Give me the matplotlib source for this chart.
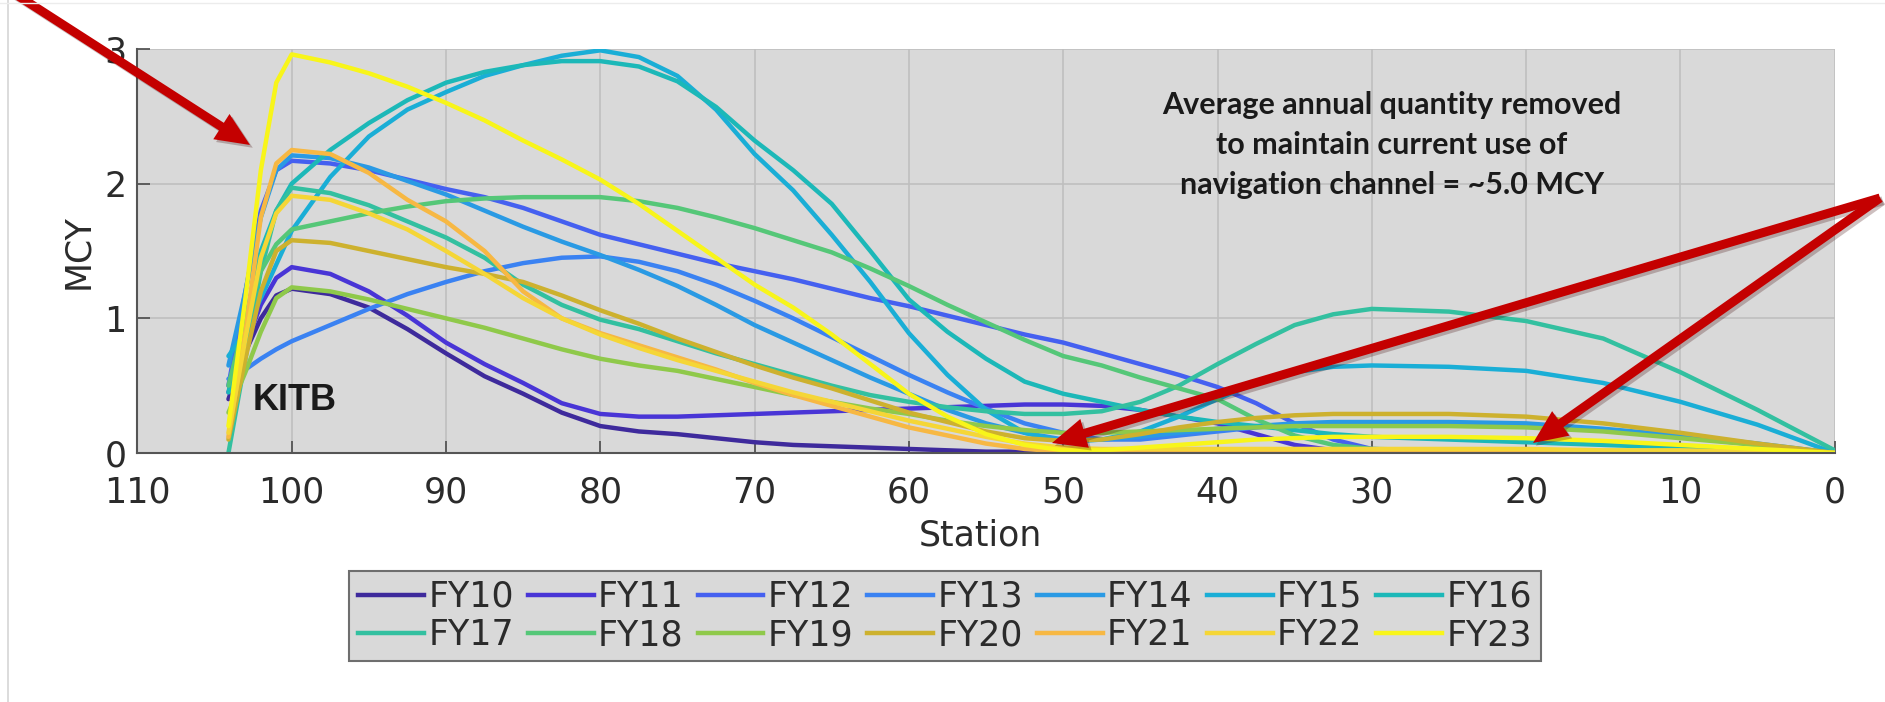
import matplotlib
matplotlib.use("Agg")
import matplotlib.pyplot as plt
from matplotlib.lines import Line2D
from matplotlib.patches import FancyArrow
from matplotlib.transforms import IdentityTransform
import matplotlib.patheffects as pe

# Station (river mile) positions shared by every fiscal-year profile
stations = [104.1, 103, 102, 101, 100, 97.5, 95, 92.5, 90, 87.5, 85, 82.5, 80,
            77.5, 75, 72.5, 70, 67.5, 65, 62.5, 60, 57.5, 55, 52.5, 50,
            47.5, 45, 42.5, 40, 37.5, 35, 32.5, 30, 25, 20, 15, 10, 5, 0]

labels = ["FY10", "FY11", "FY12", "FY13", "FY14", "FY15", "FY16",
          "FY17", "FY18", "FY19", "FY20", "FY21", "FY22", "FY23"]

colors = ["#3e2a9c", "#4935d6", "#4560f0", "#3a82f2", "#2a9ae4", "#1aaed6", "#1cb8b8",
          "#33c0a0", "#55c778", "#8fc94a", "#cdb12e", "#f7b843", "#f5d636", "#f8f51a"]

# Dredged quantity (MCY) along the channel for each fiscal year
fy10 = [0.40, 0.75, 1.00, 1.17, 1.22, 1.18, 1.08, 0.92, 0.74, 0.57, 0.44, 0.30, 0.20,
        0.16, 0.14, 0.11, 0.08, 0.06, 0.05, 0.04, 0.03, 0.02, 0.01, 0.01, 0.00,
        0, 0, 0, 0, 0, 0, 0, 0, 0, 0, 0, 0, 0, 0]
fy11 = [0.45, 0.80, 1.10, 1.30, 1.38, 1.33, 1.20, 1.02, 0.82, 0.66, 0.52, 0.37, 0.29,
        0.27, 0.27, 0.28, 0.29, 0.30, 0.31, 0.32, 0.33, 0.34, 0.35, 0.36, 0.36,
        0.35, 0.32, 0.27, 0.22, 0.14, 0.06, 0.02, 0.00, 0, 0, 0, 0, 0, 0]
fy12 = [0.50, 1.20, 1.80, 2.10, 2.17, 2.15, 2.10, 2.03, 1.96, 1.90, 1.82, 1.72, 1.62,
        1.55, 1.48, 1.41, 1.35, 1.29, 1.22, 1.15, 1.09, 1.02, 0.95, 0.88, 0.82,
        0.74, 0.66, 0.58, 0.49, 0.37, 0.22, 0.10, 0.03, 0.01, 0, 0, 0, 0, 0]
fy13 = [0.55, 0.62, 0.70, 0.77, 0.83, 0.95, 1.07, 1.18, 1.27, 1.35, 1.41, 1.45, 1.46,
        1.42, 1.35, 1.25, 1.13, 1.00, 0.86, 0.72, 0.58, 0.45, 0.33, 0.22, 0.15,
        0.10, 0.10, 0.13, 0.16, 0.19, 0.21, 0.22, 0.22, 0.22, 0.21, 0.17, 0.12, 0.06, 0.0]
fy14 = [0.65, 1.20, 1.75, 2.10, 2.21, 2.19, 2.12, 2.02, 1.92, 1.80, 1.68, 1.57, 1.47,
        1.36, 1.24, 1.10, 0.95, 0.82, 0.69, 0.56, 0.44, 0.32, 0.22, 0.15, 0.10,
        0.10, 0.12, 0.15, 0.18, 0.20, 0.22, 0.23, 0.23, 0.23, 0.22, 0.18, 0.13, 0.07, 0.0]
fy15 = [0.72, 0.90, 1.15, 1.40, 1.65, 2.05, 2.35, 2.55, 2.68, 2.80, 2.88, 2.95, 2.99,
        2.94, 2.80, 2.55, 2.22, 1.95, 1.62, 1.27, 0.89, 0.58, 0.32, 0.15, 0.08,
        0.10, 0.16, 0.27, 0.40, 0.52, 0.60, 0.64, 0.65, 0.64, 0.61, 0.52, 0.38, 0.21, 0.0]
fy16 = [0.45, 1.00, 1.50, 1.80, 2.00, 2.25, 2.45, 2.62, 2.75, 2.83, 2.88, 2.91, 2.91,
        2.87, 2.76, 2.57, 2.32, 2.10, 1.85, 1.50, 1.14, 0.90, 0.70, 0.53, 0.44,
        0.38, 0.32, 0.27, 0.23, 0.20, 0.17, 0.14, 0.12, 0.10, 0.08, 0.06, 0.04, 0.02, 0.0]
fy17 = [0.00, 0.70, 1.35, 1.80, 1.97, 1.93, 1.84, 1.72, 1.60, 1.45, 1.25, 1.10, 0.99,
        0.92, 0.83, 0.74, 0.66, 0.58, 0.50, 0.43, 0.38, 0.34, 0.31, 0.29, 0.29,
        0.31, 0.38, 0.50, 0.66, 0.81, 0.95, 1.03, 1.07, 1.05, 0.98, 0.85, 0.60, 0.32, 0.02]
fy18 = [0.50, 1.00, 1.35, 1.55, 1.66, 1.72, 1.78, 1.83, 1.87, 1.89, 1.90, 1.90, 1.90,
        1.87, 1.82, 1.75, 1.67, 1.58, 1.49, 1.37, 1.24, 1.10, 0.97, 0.84, 0.72,
        0.65, 0.56, 0.48, 0.40, 0.25, 0.13, 0.06, 0.03, 0.02, 0.01, 0.0, 0.0, 0.0, 0.0]
fy19 = [0.30, 0.60, 0.90, 1.15, 1.23, 1.20, 1.14, 1.07, 1.00, 0.93, 0.85, 0.77, 0.70,
        0.65, 0.61, 0.55, 0.49, 0.43, 0.38, 0.33, 0.29, 0.24, 0.20, 0.17, 0.15,
        0.15, 0.16, 0.17, 0.18, 0.19, 0.20, 0.20, 0.20, 0.20, 0.19, 0.16, 0.11, 0.06, 0.0]
fy20 = [0.10, 0.70, 1.20, 1.50, 1.58, 1.56, 1.50, 1.44, 1.38, 1.33, 1.27, 1.17, 1.06,
        0.96, 0.85, 0.75, 0.65, 0.56, 0.48, 0.39, 0.30, 0.23, 0.16, 0.11, 0.09,
        0.10, 0.14, 0.19, 0.23, 0.26, 0.28, 0.29, 0.29, 0.29, 0.27, 0.22, 0.15, 0.07, 0.0]
fy21 = [0.12, 0.90, 1.75, 2.15, 2.25, 2.22, 2.08, 1.88, 1.72, 1.50, 1.20, 1.00, 0.89,
        0.80, 0.71, 0.62, 0.52, 0.43, 0.35, 0.27, 0.19, 0.13, 0.07, 0.03, 0.01,
        0, 0, 0, 0, 0, 0, 0, 0, 0, 0, 0, 0, 0, 0]
fy22 = [0.15, 0.85, 1.45, 1.78, 1.91, 1.88, 1.78, 1.66, 1.50, 1.33, 1.15, 1.00, 0.88,
        0.78, 0.69, 0.61, 0.53, 0.45, 0.38, 0.31, 0.24, 0.18, 0.12, 0.07, 0.04,
        0.03, 0.03, 0.03, 0.03, 0.03, 0.03, 0.03, 0.03, 0.03, 0.03, 0.02, 0.02, 0.01, 0.0]
fy23 = [0.20, 1.15, 2.10, 2.75, 2.96, 2.90, 2.82, 2.72, 2.60, 2.47, 2.32, 2.18, 2.03,
        1.85, 1.65, 1.45, 1.25, 1.08, 0.88, 0.66, 0.44, 0.27, 0.14, 0.06, 0.02,
        0.02, 0.04, 0.06, 0.08, 0.10, 0.11, 0.12, 0.12, 0.12, 0.11, 0.09, 0.06, 0.03, 0.0]

series = [fy10, fy11, fy12, fy13, fy14, fy15, fy16,
          fy17, fy18, fy19, fy20, fy21, fy22, fy23]

x_ticks = [110, 100, 90, 80, 70, 60, 50, 40, 30, 20, 10, 0]
y_ticks = [0, 1, 2, 3]

note_lines = ["Average annual quantity removed",
              "to maintain current use of",
              "navigation channel = ~5.0 MCY"]

W, H = 1885, 702
plt.rcParams["font.family"] = ["DejaVu Sans"]

fig = plt.figure(figsize=(W / 100, H / 100), dpi=100)
fig.patch.set_facecolor("white")


def px(x, y):
    """Top-left pixel position -> figure fraction."""
    return x / W, (H - y) / H


ax_left, ax_right, ax_top, ax_bottom = 137.4, 1834.7, 49.0, 453.0
ax = fig.add_axes([ax_left / W, (H - ax_bottom) / H,
                   (ax_right - ax_left) / W, (ax_bottom - ax_top) / H])
ax.set_facecolor("#d9d9d9")

lines = []
for vals, col, lab in zip(series, colors, labels):
    ln, = ax.plot(stations, vals, color=col, lw=3.2, label=lab,
                  solid_capstyle="round", solid_joinstyle="round")
    lines.append(ln)

ax.set_xlim(110, 0)
ax.set_ylim(0, 3)
ax.set_xticks(x_ticks)
ax.set_yticks(y_ticks)
ax.grid(True, color="#bfbfbf", lw=1.2)
ax.set_axisbelow(True)
for side in ("top", "right"):
    ax.spines[side].set_visible(False)
for side in ("left", "bottom"):
    ax.spines[side].set_color("#555555")
    ax.spines[side].set_linewidth(1.5)
ax.tick_params(axis="both", direction="in", length=9, width=1.3, colors="#555555",
               labelcolor="#2b2b2b", labelsize=25)
ax.tick_params(axis="x", pad=16)
ax.tick_params(axis="y", pad=8)

# Axis titles
fig.text(*px(78, 252), "MCY", rotation=90, ha="center", va="center",
         fontsize=25, color="#2b2b2b")
fig.text(*px(980, 535), "Station", ha="center", va="center",
         fontsize=25, color="#2b2b2b")

# Station marker and note
fig.text(*px(253, 410), "KITB", ha="left", va="baseline", fontsize=26,
         fontweight="bold", family=["Liberation Sans", "DejaVu Sans"], color="#1a1a1a")
for i, line in enumerate(note_lines):
    fig.text(*px(1392, 105 + 40 * i), line, ha="center", va="center", fontsize=22,
             fontweight="bold", family=["Lato", "DejaVu Sans"], color="#1a1a1a")

# Legend below the axes, filled row by row (7 per row)
ncol, nrow = 7, 2
order = [r * ncol + c for c in range(ncol) for r in range(nrow)]
handles = [Line2D([], [], color=colors[i], lw=3.2) for i in order]
leg_labels = [labels[i] for i in order]
leg = fig.legend(handles, leg_labels, loc="center", bbox_to_anchor=px(945, 616), ncol=ncol,
                 fontsize=25, frameon=True, fancybox=False, framealpha=1,
                 facecolor="#d9d9d9", edgecolor="#6e6e6e", handlelength=1.9,
                 handletextpad=0.12, columnspacing=0.4, labelspacing=0.12,
                 borderpad=0.25, borderaxespad=0)
leg.get_frame().set_linewidth(1.5)
for t in leg.get_texts():
    t.set_color("#2b2b2b")

# Red call-out arrows (pixel coordinates, origin at top-left)
arrow_specs = [((12, -8), (250, 145)),
               ((1880, 198), (1052, 443)),
               ((1880, 198), (1533, 443))]
for (x0, y0), (x1, y1) in arrow_specs:
    arr = FancyArrow(x0, H - y0, x1 - x0, -(y1 - y0), width=9, head_width=30,
                     head_length=34, length_includes_head=True,
                     transform=IdentityTransform(), color="#c40000", lw=0)
    arr.set_path_effects([pe.SimplePatchShadow(offset=(2, -2), alpha=0.25),
                          pe.Normal()])
    fig.add_artist(arr)

# Faint page borders
fig.add_artist(Line2D([8 / W, 8 / W], [0, 1], color="#d6d6d6", lw=1.2))
fig.add_artist(Line2D([0, 1], [1 - 3 / H, 1 - 3 / H], color="#ececec", lw=1.0))

fig.savefig("out.png", dpi=100, facecolor="white")
